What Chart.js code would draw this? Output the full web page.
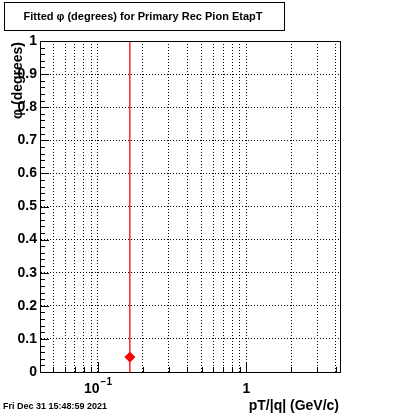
<!DOCTYPE html>
<html>
<head>
<meta charset="utf-8">
<script src="https://cdn.jsdelivr.net/npm/chart.js@4/dist/chart.umd.min.js"></script>
<style>
  html, body { margin: 0; padding: 0; background: #fff; }
  #wrap { width: 400px; height: 414px; }
</style>
</head>
<body>
<div id="wrap"><canvas id="myChart" width="400" height="414"></canvas></div>
<script>
/* data */
var ptValues = [0.164];
var phiValues = [0.045];
var phiErrors = [1.2];

/* axes */
var xMin = 0.0407, xMax = 4.27;
var xGridTicks = [0.05, 0.06, 0.07, 0.08, 0.09, 0.1, 0.2, 0.3, 0.4, 0.5, 0.6, 0.7, 0.8, 0.9, 1, 2, 3, 4];
var xLabelValues = [0.1, 1];
var xLabelBase = ['10', '1'];
var xLabelExp = ['\u22121', ''];
var yTicks = [0, 0.1, 0.2, 0.3, 0.4, 0.5, 0.6, 0.7, 0.8, 0.9, 1];
var yTickLabels = ['0', '0.1', '0.2', '0.3', '0.4', '0.5', '0.6', '0.7', '0.8', '0.9', '1'];

var title = 'Fitted \u03c6 (degrees) for Primary Rec Pion EtapT';
var yTitle = '\u03c6 (degrees)';
var xTitle = 'pT/|q| (GeV/c)';
var dateText = 'Fri Dec 31 15:48:59 2021';

var FONT = '"Liberation Sans", Arial, Helvetica, sans-serif';

// error bar points built from the arrays
var errPoints = [];
for (var i = 0; i < ptValues.length; i++) {
    errPoints.push({x: ptValues[i], y: phiValues[i] - phiErrors[i]});
    errPoints.push({x: ptValues[i], y: phiValues[i] + phiErrors[i]});
}
var points = ptValues.map(function(v, i){ return {x: v, y: phiValues[i]}; });

var rootStuff = {
    id: 'rootStuff',
    beforeDraw: function(chart){
        var c = chart.ctx;
        c.save();
        c.fillStyle = '#fff';
        c.fillRect(0, 0, chart.width, chart.height);
        c.restore();
    },
    afterDraw: function(chart){
        var c = chart.ctx;
        var a = chart.chartArea;
        var xs = chart.scales.x, ys = chart.scales.y;
        c.save();
        c.strokeStyle = '#000';
        c.lineWidth = 1;
        // frame
        c.strokeRect(Math.round(a.left) + 0.5, Math.round(a.top) + 0.5,
            Math.round(a.right - a.left), Math.round(a.bottom - a.top));

        // y tick marks (inside), majors + 4 minors
        c.beginPath();
        for (var k = 0; k < yTicks.length; k++) {
            var py = Math.round(ys.getPixelForValue(yTicks[k])) + 0.5;
            c.moveTo(a.left, py); c.lineTo(a.left + 9, py);
            if (k < yTicks.length - 1) {
                for (var m = 1; m < 5; m++) {
                    var v = yTicks[k] + (yTicks[k + 1] - yTicks[k]) * m / 5;
                    var pm = Math.round(ys.getPixelForValue(v)) + 0.5;
                    c.moveTo(a.left, pm); c.lineTo(a.left + 5, pm);
                }
            }
        }
        // x tick marks (inside)
        for (var j = 0; j < xGridTicks.length; j++) {
            var px = Math.round(xs.getPixelForValue(xGridTicks[j])) + 0.5;
            var len = xLabelValues.indexOf(xGridTicks[j]) >= 0 ? 10 : 5;
            c.moveTo(px, a.bottom); c.lineTo(px, a.bottom - len);
        }
        c.stroke();

        // x tick labels
        c.fillStyle = '#000';
        c.textBaseline = 'alphabetic';
        for (var n = 0; n < xLabelValues.length; n++) {
            var cx = xs.getPixelForValue(xLabelValues[n]);
            c.font = 'bold 14px ' + FONT;
            var wb = c.measureText(xLabelBase[n]).width;
            c.font = 'bold 10px ' + FONT;
            var we = xLabelExp[n] ? c.measureText(xLabelExp[n]).width + 1 : 0;
            var x0 = cx - (wb + we) / 2;
            c.font = 'bold 14px ' + FONT;
            c.textAlign = 'left';
            c.fillText(xLabelBase[n], x0, 393);
            if (xLabelExp[n]) {
                c.font = 'bold 10px ' + FONT;
                c.fillText(xLabelExp[n], x0 + wb + 1, 385);
            }
        }

        // x title
        c.font = 'bold 14px ' + FONT;
        c.textAlign = 'right';
        c.fillText(xTitle, a.right - 1, 410);

        // y title
        c.save();
        c.translate(22, a.top + 1);
        c.rotate(-Math.PI / 2);
        c.textAlign = 'right';
        c.font = 'bold 14px ' + FONT;
        c.fillText(yTitle, 0, 0);
        c.restore();

        // date
        c.font = 'bold 9px ' + FONT;
        c.textAlign = 'left';
        c.fillText(dateText, 3, 409);

        // title box
        c.strokeRect(4.5, 2.5, 280, 28);
        c.font = 'bold 11px ' + FONT;
        c.textAlign = 'center';
        c.textBaseline = 'middle';
        c.fillText(title, 143, 17);
        c.restore();
    }
};

var ctx = document.getElementById('myChart').getContext('2d');
var chart = new Chart(ctx, {
    type: 'scatter',
    data: {
        datasets: [{
            // error bar
            type: 'line',
            data: errPoints,
            borderColor: '#ff0000',
            borderWidth: 1.3,
            pointRadius: 0,
            showLine: true,
            fill: false
        }, {
            data: points,
            backgroundColor: '#ff0000',
            borderColor: '#ff0000',
            pointStyle: 'rectRot',
            pointRadius: 5,
            pointHoverRadius: 5
        }]
    },
    options: {
        responsive: false,
        animation: false,
        devicePixelRatio: 1,
        layout: { padding: { left: 0, right: 60, top: 41, bottom: 0 } },
        plugins: {
            legend: { display: false },
            tooltip: { enabled: false },
            title: { display: false }
        },
        scales: {
            x: {
                type: 'logarithmic',
                min: xMin,
                max: xMax,
                afterBuildTicks: function(scale){
                    scale.ticks = xGridTicks.map(function(v){ return {value: v}; });
                },
                afterFit: function(scale){ scale.height = 42; },
                ticks: { display: false },
                grid: { color: '#000', lineWidth: 1, drawTicks: false },
                border: { display: true, color: '#000', width: 1, dash: [1, 2] }
            },
            y: {
                min: 0,
                max: 1,
                afterBuildTicks: function(scale){
                    scale.ticks = yTicks.map(function(v){ return {value: v}; });
                },
                afterFit: function(scale){ scale.width = 40; },
                ticks: {
                    color: '#000',
                    padding: 3,
                    font: { family: FONT, size: 14, weight: 'bold' },
                    callback: function(v, idx){ return yTickLabels[idx]; }
                },
                grid: { color: '#000', lineWidth: 1, drawTicks: false },
                border: { display: true, color: '#000', width: 1, dash: [1, 2] }
            }
        }
    },
    plugins: [rootStuff]
});
</script>
</body>
</html>
